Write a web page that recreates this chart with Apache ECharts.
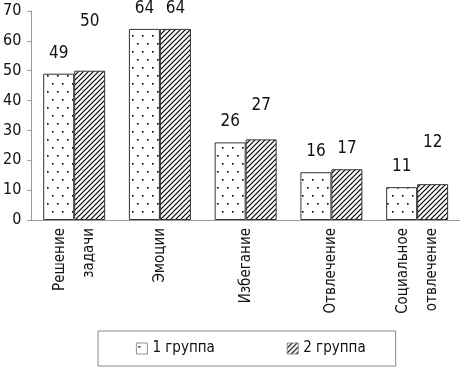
<!DOCTYPE html>
<html>
<head>
<meta charset="utf-8">
<script src="https://cdn.jsdelivr.net/npm/echarts@6/dist/echarts.min.js"></script>
<style>
  html, body { margin: 0; padding: 0; background: #fff; }
  #chart { width: 460px; height: 370px; }
</style>
</head>
<body>
<div id="chart"></div>
<script>
const categories = ['Решение\nзадачи', 'Эмоции', 'Избегание', 'Отвлечение', 'Социальное\nотвлечение'];
const group1 = [49, 64, 26, 16, 11];
const group2 = [50, 64, 27, 17, 12];
const seriesNames = ['1 группа', '2 группа'];
const yMin = 0, yMax = 70, yStep = 10;

// the value labels in the source were placed by hand, so each one sits at its own height
const lift1 = [12, 12, 12, 12, 12];
const lift2 = [41, 12, 25, 12, 33];

const FONT = "'Liberation Sans Narrow', 'DejaVu Sans Condensed', sans-serif";

// white fill with sparse staggered dots
function dotsTile() {
  const c = document.createElement('canvas');
  c.width = 10; c.height = 16;
  const g = c.getContext('2d');
  g.fillStyle = '#fff';
  g.fillRect(0, 0, 10, 16);
  g.fillStyle = '#000';
  g.fillRect(2, 3, 1.6, 1.6);
  g.fillRect(7, 11, 1.6, 1.6);
  return c;
}

// diagonal hatch  ////
function hatchTile() {
  const s = 5;
  const c = document.createElement('canvas');
  c.width = s; c.height = s;
  const g = c.getContext('2d');
  g.fillStyle = '#fff';
  g.fillRect(0, 0, s, s);
  g.strokeStyle = '#000';
  g.lineWidth = 1.2;
  g.beginPath();
  g.moveTo(-1, s + 1); g.lineTo(s + 1, -1);
  g.moveTo(-1, 1); g.lineTo(1, -1);
  g.moveTo(s - 1, s + 1); g.lineTo(s + 1, s - 1);
  g.stroke();
  return c;
}

function barSeries(name, values, lifts, tile) {
  return {
    name: name,
    type: 'bar',
    barWidth: 31,
    barGap: '0%',
    itemStyle: {
      color: { image: tile, repeat: 'repeat' },
      borderColor: '#333',
      borderWidth: 1
    },
    label: {
      show: true,
      position: 'top',
      fontFamily: FONT,
      fontSize: 17,
      color: '#111'
    },
    data: values.map((v, i) => ({ value: v, label: { distance: lifts[i] } }))
  };
}

const chart = echarts.init(document.getElementById('chart'));
chart.setOption({
  animation: false,
  backgroundColor: '#fff',
  textStyle: { fontFamily: FONT },
  grid: { left: 30, right: 0, top: 11, bottom: 150 },
  legend: {
    data: seriesNames,
    icon: 'rect',
    left: 98,
    top: 331,
    borderColor: '#888',
    borderWidth: 1,
    padding: [10, 30, 10, 38],
    itemWidth: 11,
    itemHeight: 11,
    itemGap: 72,
    itemStyle: { borderColor: '#777', borderWidth: 0.8 },
    textStyle: { fontFamily: FONT, fontSize: 15, color: '#111' }
  },
  xAxis: {
    type: 'category',
    data: categories,
    axisLine: { lineStyle: { color: '#999' } },
    axisTick: { length: 5, lineStyle: { color: '#999' } },
    axisLabel: {
      interval: 0,
      rotate: 90,
      margin: 8,
      lineHeight: 29,
      fontFamily: FONT,
      fontSize: 15,
      color: '#111'
    }
  },
  yAxis: {
    type: 'value',
    min: yMin,
    max: yMax,
    interval: yStep,
    axisLine: { show: true, lineStyle: { color: '#999' } },
    axisTick: { show: true, length: 4, lineStyle: { color: '#999' } },
    splitLine: { show: false },
    axisLabel: { margin: 10, fontFamily: FONT, fontSize: 16, color: '#111' }
  },
  series: [
    barSeries(seriesNames[0], group1, lift1, dotsTile()),
    barSeries(seriesNames[1], group2, lift2, hatchTile())
  ]
});
</script>
</body>
</html>
